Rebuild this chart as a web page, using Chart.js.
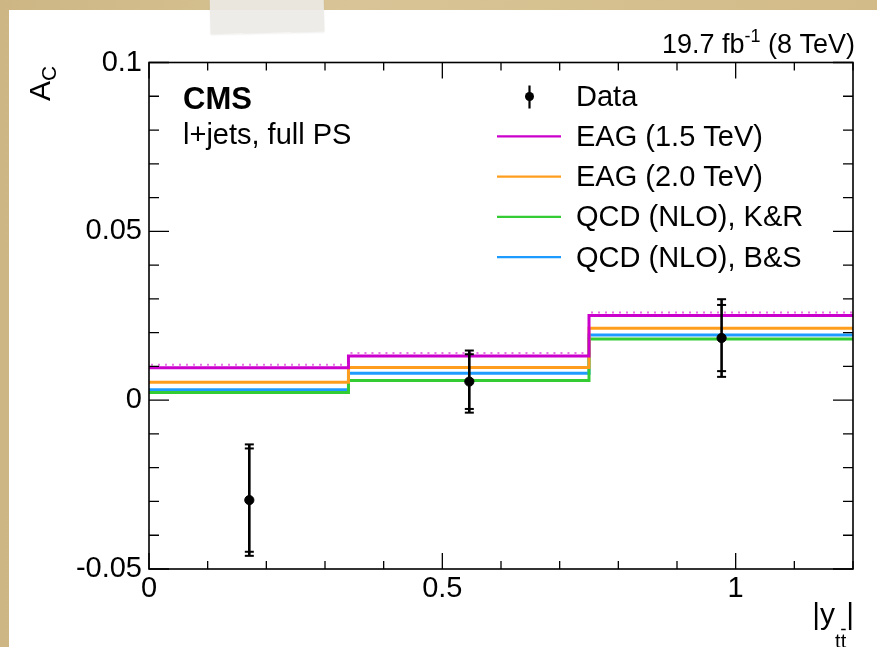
<!DOCTYPE html>
<html><head><meta charset="utf-8">
<script src="https://cdn.jsdelivr.net/npm/chart.js@4.4.1/dist/chart.umd.min.js"></script>
<style>
html,body{margin:0;padding:0;width:877px;height:647px;overflow:hidden;background:#d3bd8b;}
body{background:linear-gradient(90deg,#cdb684 0%,#d8c496 40%,#d2bb88 100%);}
#card{position:absolute;left:9px;top:10px;width:868px;height:637px;background:#fff;}
#tape{position:absolute;left:210px;top:-6px;width:114px;height:39px;background:rgba(236,234,230,0.9);transform:rotate(-1.2deg);box-shadow:0 1px 2px rgba(0,0,0,0.06);}
#wrap{position:absolute;left:0;top:0;width:877px;height:647px;}
</style></head><body>
<div id="card"></div><div id="tape"></div>
<div id="wrap"><canvas id="c" width="877" height="647"></canvas></div>
<script>
// ---- data ----
const binEdges = [0, 0.34, 0.75, 1.2];
const eag15 = [0.0096, 0.0131, 0.0251];
const eag20 = [0.0053, 0.0097, 0.0213];
const qcdKR = [0.0023, 0.0058, 0.0181];
const qcdBS = [0.0031, 0.0080, 0.0193];
const dataX = [0.171, 0.546, 0.976];
const dataY = [-0.0296, 0.0055, 0.0184];
const dataErrTot = [0.0165, 0.0092, 0.0115];
const dataErrStat = [0.0153, 0.0081, 0.0098];
const seriesLabels = ['EAG (1.5 TeV)', 'EAG (2.0 TeV)', 'QCD (NLO), K&R', 'QCD (NLO), B&S'];
const seriesColors = ['#cc00cc', '#ff9e1e', '#33cc33', '#1e9bff'];
const xRange = [0, 1.2];
const yRange = [-0.05, 0.1];

const FONT = '"Liberation Sans", Arial, Helvetica, sans-serif';
const AREA = {left: 149, top: 62.5, right: 853, bottom: 569};

function stepPoints(vals) {
  const pts = vals.map((v, i) => ({x: binEdges[i], y: v}));
  pts.push({x: binEdges[binEdges.length - 1], y: vals[vals.length - 1]});
  return pts;
}
function near(v, step) { const r = v / step; return Math.abs(r - Math.round(r)) < 1e-6; }
function fmt(v) { return String(+(+v).toFixed(2)); }

const seriesVals = [eag15, eag20, qcdKR, qcdBS];
const lineSets = seriesVals.map((vals, i) => ({
  type: 'line', label: seriesLabels[i], data: stepPoints(vals), stepped: 'before',
  borderColor: seriesColors[i], borderWidth: 3, pointRadius: 0, fill: false
}));

const overlay = {
  id: 'overlay',
  afterDatasetsDraw(chart) {
    const {ctx, chartArea: a, scales: {x, y}} = chart;
    ctx.save();
    // small hatch marks on EAG 1.5 band
    const m = chart.getDatasetMeta(1);
    ctx.strokeStyle = 'rgba(215,60,215,0.7)';
    ctx.lineWidth = 2;
    ctx.setLineDash([2, 5]);
    for (let i = 0; i < m.data.length - 1; i++) {
      const p0 = m.data[i], p1 = m.data[i + 1];
      ctx.beginPath();
      ctx.moveTo(p0.x + 2, p0.y - 3);
      ctx.lineTo(p1.x - 1, p0.y - 3);
      ctx.stroke();
    }
    ctx.setLineDash([]);
    // error bars
    ctx.strokeStyle = '#000';
    dataX.forEach((xv, i) => {
      const px = x.getPixelForValue(xv);
      const yt = y.getPixelForValue(dataY[i] + dataErrTot[i]);
      const yb = y.getPixelForValue(dataY[i] - dataErrTot[i]);
      const st = y.getPixelForValue(dataY[i] + dataErrStat[i]);
      const sb = y.getPixelForValue(dataY[i] - dataErrStat[i]);
      ctx.lineWidth = 2.6;
      ctx.beginPath(); ctx.moveTo(px, yt); ctx.lineTo(px, yb); ctx.stroke();
      ctx.lineWidth = 2;
      [yt, yb, st, sb].forEach(cy => {
        ctx.beginPath(); ctx.moveTo(px - 4.5, cy); ctx.lineTo(px + 4.5, cy); ctx.stroke();
      });
    });
    // frame
    ctx.strokeStyle = '#000';
    ctx.lineWidth = 1.6;
    ctx.strokeRect(a.left, a.top, a.right - a.left, a.bottom - a.top);
    // tick marks (inward)
    ctx.lineWidth = 1.3;
    x.ticks.forEach(t => {
      const px = x.getPixelForValue(t.value);
      const len = near(t.value, 0.5) ? 16 : 8;
      ctx.beginPath();
      ctx.moveTo(px, a.bottom); ctx.lineTo(px, a.bottom - len);
      ctx.moveTo(px, a.top); ctx.lineTo(px, a.top + len);
      ctx.stroke();
    });
    y.ticks.forEach(t => {
      const py = y.getPixelForValue(t.value);
      const len = near(t.value, 0.05) ? 20 : 10;
      ctx.beginPath();
      ctx.moveTo(a.left, py); ctx.lineTo(a.left + len, py);
      ctx.moveTo(a.right, py); ctx.lineTo(a.right - len, py);
      ctx.stroke();
    });
    // texts
    ctx.fillStyle = '#000';
    ctx.textBaseline = 'alphabetic';
    ctx.textAlign = 'left';
    ctx.font = 'bold 31px ' + FONT;
    ctx.fillText('CMS', 183, 109);
    ctx.font = '29px ' + FONT;
    ctx.fillText('l+jets, full PS', 183, 144);

    // lumi label (right aligned)
    const big = '27px ' + FONT, small = '18px ' + FONT;
    ctx.font = big; const w1 = ctx.measureText('19.7 fb').width;
    const w3 = ctx.measureText(' (8 TeV)').width;
    ctx.font = small; const w2 = ctx.measureText('-1').width;
    let sx = 855 - (w1 + w2 + w3);
    ctx.font = big; ctx.fillText('19.7 fb', sx, 53);
    ctx.font = small; ctx.fillText('-1', sx + w1, 42);
    ctx.font = big; ctx.fillText(' (8 TeV)', sx + w1 + w2, 53);

    // x title |y_tt̄|
    const xf = '30px ' + FONT, xs = '20px ' + FONT;
    ctx.font = xf; const a1 = ctx.measureText('|y').width, a3 = ctx.measureText('|').width;
    ctx.font = xs; const a2 = ctx.measureText('tt').width, tw = ctx.measureText('t').width;
    let tx = 854 - (a1 + a2 + a3);
    ctx.font = xf; ctx.fillText('|y', tx, 624);
    ctx.font = xs; ctx.fillText('tt', tx + a1, 648);
    ctx.lineWidth = 1.5;
    ctx.beginPath(); ctx.moveTo(tx + a1 + tw + 0.5, 629.5); ctx.lineTo(tx + a1 + 2 * tw - 0.5, 629.5); ctx.stroke();
    ctx.font = xf; ctx.fillText('|', tx + a1 + a2, 624);

    // y title A_C
    ctx.save();
    ctx.translate(50, 101);
    ctx.rotate(-Math.PI / 2);
    ctx.font = '30px ' + FONT; ctx.fillText('A', 0, 0);
    const wa = ctx.measureText('A').width;
    ctx.font = '21px ' + FONT; ctx.fillText('C', wa, 6);
    ctx.restore();

    // legend
    const lx0 = 497, lx1 = 561, tx0 = 576, by0 = 105.5, step = 40.3;
    ctx.font = '29px ' + FONT;
    // Data entry
    ctx.lineWidth = 2.2;
    ctx.beginPath(); ctx.moveTo(529.5, by0 - 20); ctx.lineTo(529.5, by0 + 3); ctx.stroke();
    ctx.beginPath(); ctx.arc(529.5, by0 - 9, 4.5, 0, Math.PI * 2); ctx.fill();
    ctx.fillText('Data', tx0, by0);
    const order = [0, 1, 2, 3];
    order.forEach((k, j) => {
      const by = by0 + step * (j + 1);
      ctx.strokeStyle = seriesColors[k];
      ctx.lineWidth = 2.2;
      ctx.beginPath(); ctx.moveTo(lx0, by - 9.5); ctx.lineTo(lx1, by - 9.5); ctx.stroke();
      ctx.fillStyle = '#000';
      ctx.fillText(seriesLabels[k], tx0, by);
    });
    ctx.restore();
  }
};

new Chart(document.getElementById('c'), {
  data: {
    datasets: [
      {type: 'scatter', label: 'Data', data: dataX.map((xv, i) => ({x: xv, y: dataY[i]})),
       pointRadius: 4.6, pointBackgroundColor: '#000', pointBorderColor: '#000', showLine: false},
      ...lineSets
    ]
  },
  options: {
    responsive: false, animation: false, devicePixelRatio: 1,
    layout: {padding: {top: AREA.top, right: 877 - AREA.right, left: 0, bottom: 0}},
    plugins: {legend: {display: false}, tooltip: {enabled: false}},
    scales: {
      x: {type: 'linear', position: 'bottom', min: xRange[0], max: xRange[1],
          grid: {display: false, drawTicks: false}, border: {display: false},
          afterFit(s) { s.height = 647 - AREA.bottom; },
          ticks: {stepSize: 0.1, autoSkip: false, maxRotation: 0, padding: 3, color: '#000',
                  font: {family: FONT, size: 29},
                  callback: v => near(v, 0.5) ? fmt(v) : ''}},
      y: {type: 'linear', position: 'left', min: yRange[0], max: yRange[1],
          grid: {display: false, drawTicks: false}, border: {display: false},
          afterFit(s) { s.width = AREA.left; },
          ticks: {stepSize: 0.01, autoSkip: false, padding: 7, color: '#000',
                  font: {family: FONT, size: 29},
                  callback: v => near(v, 0.05) ? fmt(v) : ''}}
    }
  },
  plugins: [overlay]
});
</script>
</body></html>
